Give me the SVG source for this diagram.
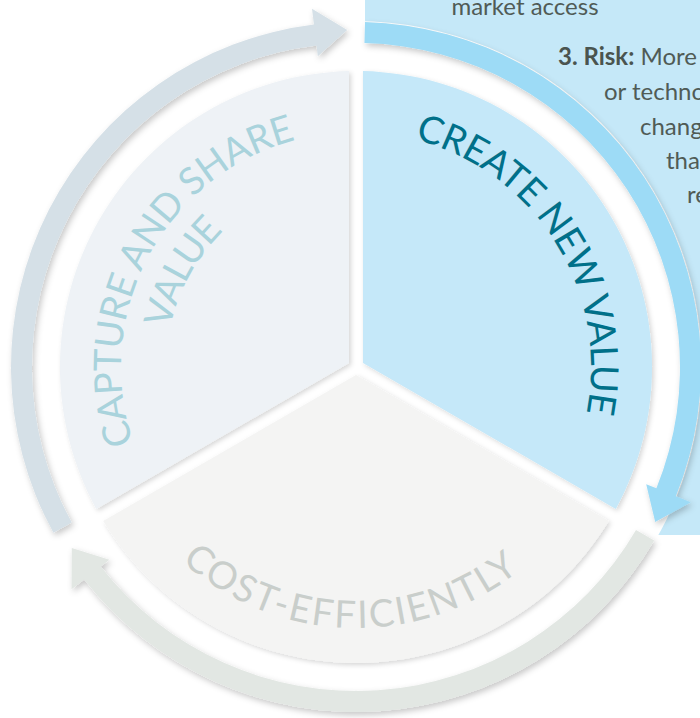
<svg xmlns="http://www.w3.org/2000/svg" width="700" height="718" viewBox="0 0 700 718">
<style>
.lbl{font-family:Lato,"Open Sans","Liberation Sans",sans-serif;font-size:38px;font-weight:400}
.body{font-family:Lato,"Open Sans","Liberation Sans",sans-serif;font-size:24px;fill:#505b56;font-weight:400}
.bold{font-weight:700;fill:#4a544f}
</style>
<defs>
<filter id="sh" x="-20%" y="-20%" width="140%" height="140%">
<feDropShadow dx="2" dy="3" stdDeviation="3" flood-color="#000" flood-opacity="0.22"/>
</filter>
<filter id="shs" x="-20%" y="-20%" width="140%" height="140%">
<feDropShadow dx="2" dy="2" stdDeviation="2.5" flood-color="#000" flood-opacity="0.16"/>
</filter>
<path id="tp-create" d="M414.84,139.48 A235,235 0 0 1 586.36,413.45"/>
<path id="tp-capture" d="M133.54,442.73 A235,235 0 0 1 295.97,139.80"/>
<path id="tp-value" d="M169.95,328.47 A190,190 0 0 1 224.73,229.64"/>
<path id="tp-cost" d="M181.70,561.27 A261,261 0 0 0 519.19,570.69"/>
</defs>

<g id="info-box">
<rect x="365" y="0" width="335" height="535" fill="#c5e8f8"/>
<text class="body" x="525" y="15" text-anchor="middle">market access</text>
<text class="body" x="558" y="65"><tspan class="bold">3. Risk:</tspan> More</text>
<text class="body" x="604" y="100">or techno</text>
<text class="body" x="640" y="135">change</text>
<text class="body" x="666" y="169">than</text>
<text class="body" x="687" y="203">re</text>
</g>

<circle cx="356" cy="367" r="346" fill="#ffffff"/>

<g id="connectors">
<path id="arrow-capture" filter="url(#sh)" fill="#d5e0e7" d="M53.38,532.68 A345,345 0 0 1 313.95,24.57 L312.00,8.69 L347.18,30.12 L317.85,56.33 L316.51,45.41 A324,324 0 0 0 71.80,522.59 Z"/>
<path id="arrow-create" filter="url(#sh)" fill="#9ddbf6" d="M365.03,22.12 A345,345 0 0 1 675.88,496.24 L690.71,502.23 L655.20,522.09 L646.21,484.25 L656.41,488.37 A324,324 0 0 0 364.48,43.11 Z"/>
<path id="arrow-cost" filter="url(#sh)" fill="#e2e7e3" d="M654.17,540.54 A345,345 0 0 1 84.14,579.40 L71.53,589.25 L71.78,548.07 L109.35,559.70 L100.68,566.47 A324,324 0 0 0 636.02,529.98 Z"/>
</g>

<g id="node-capture">
<path filter="url(#shs)" fill="#eef2f6" d="M349,362.96 L96.22,508.90 A296,296 0 0 1 349,71.08 Z"/>
<text class="lbl" fill="#a9d3dc"><textPath href="#tp-capture" textLength="385" lengthAdjust="spacing">CAPTURE AND SHARE</textPath></text>
<text class="lbl" fill="#a9d3dc"><textPath href="#tp-value" textLength="113" lengthAdjust="spacing">VALUE</textPath></text>
</g>

<g id="node-create">
<path filter="url(#shs)" fill="#c5e8f9" d="M363,363 L363,71.08 A296,296 0 0 1 615.78,508.90 Z"/>
<text class="lbl" fill="#007089"><textPath href="#tp-create" textLength="356" lengthAdjust="spacing">CREATE NEW VALUE</textPath></text>
</g>

<g id="node-cost">
<path filter="url(#shs)" fill="#f4f4f3" d="M356,375.08 L608.77,521.01 A296,296 0 0 1 103.23,521.01 Z"/>
<text class="lbl" fill="#c9cecb"><textPath href="#tp-cost" textLength="367" lengthAdjust="spacing">COST-EFFICIENTLY</textPath></text>
</g>
</svg>
